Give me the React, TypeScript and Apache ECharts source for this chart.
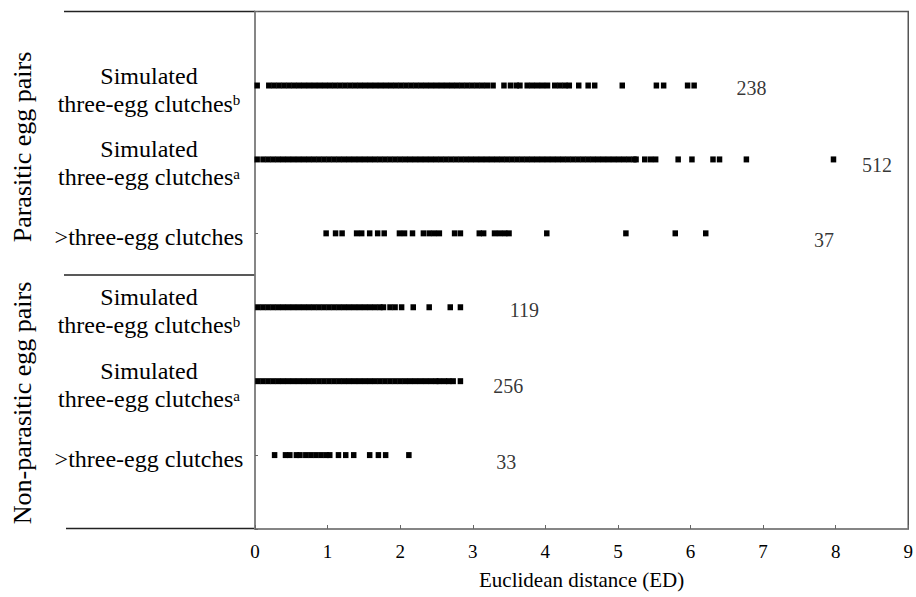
import React, { useEffect, useRef } from "react";
import * as echarts from "echarts";

// ---- data ----
const rowNames: string[] = [
  "Parasitic · Simulated three-egg clutches b",
  "Parasitic · Simulated three-egg clutches a",
  "Parasitic · >three-egg clutches",
  "Non-parasitic · Simulated three-egg clutches b",
  "Non-parasitic · Simulated three-egg clutches a",
  "Non-parasitic · >three-egg clutches",
];
const rowLevels: number[] = [6, 5, 4, 3, 2, 1];
const counts: number[] = [238, 512, 37, 119, 256, 33];

const parSimB: number[] = [
  0.03, 0.19, 0.26, 0.33, 0.40, 0.47, 0.54, 0.61, 0.68, 0.75, 0.82, 0.89, 0.96, 1.03,
  1.10, 1.17, 1.24, 1.31, 1.38, 1.45, 1.52, 1.59, 1.66, 1.73, 1.80, 1.87, 1.94, 2.01,
  2.08, 2.15, 2.22, 2.29, 2.36, 2.43, 2.50, 2.57, 2.64, 2.71, 2.78, 2.85, 2.92, 2.99,
  3.06, 3.13, 3.20, 3.28, 3.43, 3.52, 3.60, 3.65, 3.75, 3.82, 3.89, 3.96, 4.03, 4.13,
  4.20, 4.27, 4.33, 4.46, 4.59, 4.68, 5.06, 5.53, 5.63, 5.96, 6.05,
];
const parSimA: number[] = [
  0.03, 0.11, 0.18, 0.25, 0.32, 0.39, 0.46, 0.53, 0.60, 0.67, 0.74, 0.81, 0.88, 0.95,
  1.02, 1.09, 1.16, 1.23, 1.30, 1.37, 1.44, 1.51, 1.58, 1.65, 1.72, 1.79, 1.86, 1.93,
  2.00, 2.07, 2.14, 2.21, 2.28, 2.35, 2.42, 2.49, 2.56, 2.63, 2.70, 2.77, 2.84, 2.91,
  2.98, 3.05, 3.12, 3.19, 3.26, 3.33, 3.40, 3.47, 3.54, 3.61, 3.68, 3.75, 3.82, 3.89,
  3.96, 4.03, 4.10, 4.17, 4.24, 4.31, 4.38, 4.45, 4.52, 4.59, 4.66, 4.73, 4.80, 4.87,
  4.94, 5.01, 5.08, 5.15, 5.22, 5.25, 5.37, 5.45, 5.52, 5.83, 6.02, 6.31, 6.40, 6.77,
  7.97,
];
const parMore: number[] = [
  0.98, 1.11, 1.20, 1.40, 1.47, 1.58, 1.69, 1.78, 1.99, 2.06, 2.17, 2.32, 2.40, 2.47,
  2.54, 2.75, 2.83, 3.09, 3.15, 3.30, 3.37, 3.44, 3.50, 4.02, 5.11, 5.79, 6.21,
];
const nonSimB: number[] = [
  0.04, 0.11, 0.18, 0.25, 0.32, 0.39, 0.46, 0.53, 0.60, 0.67, 0.74, 0.81, 0.88, 0.95,
  1.02, 1.09, 1.16, 1.23, 1.30, 1.37, 1.44, 1.51, 1.58, 1.65, 1.72, 1.77, 1.86, 1.93,
  2.02, 2.18, 2.40, 2.69, 2.83,
];
const nonSimA: number[] = [
  0.04, 0.11, 0.18, 0.25, 0.32, 0.39, 0.46, 0.53, 0.60, 0.67, 0.74, 0.81, 0.88, 0.95,
  1.02, 1.09, 1.16, 1.23, 1.30, 1.37, 1.44, 1.51, 1.58, 1.65, 1.72, 1.79, 1.86, 1.93,
  2.00, 2.07, 2.14, 2.21, 2.28, 2.35, 2.42, 2.49, 2.54, 2.61, 2.67, 2.73, 2.83,
];
const nonMore: number[] = [
  0.27, 0.42, 0.48, 0.57, 0.62, 0.70, 0.77, 0.84, 0.91, 0.98, 1.03, 1.15, 1.25, 1.36,
  1.58, 1.70, 1.80, 2.12,
];
const rowValues: number[][] = [parSimB, parSimA, parMore, nonSimB, nonSimA, nonMore];

const xTicks: number[] = [0, 1, 2, 3, 4, 5, 6, 7, 8, 9];
const xTitle = "Euclidean distance (ED)";
const groupTitles: string[] = ["Parasitic egg pairs", "Non-parasitic egg pairs"];

// ---- layout (annotation placement) ----
const countLabelX: number[] = [6.84, 8.57, 7.84, 3.71, 3.49, 3.46];
const countLabelDy: number[] = [2, 6, 7, 3, 5, 6.5];

const FONT = "Liberation Serif";

const yLabelText: Record<number, string> = {
  6: "{t|Simulated}\n{t|three-egg clutches}{s|b}",
  5: "{t|Simulated}\n{t|three-egg clutches}{s|a}",
  4: "{t|>three-egg clutches}",
  3: "{t|Simulated}\n{t|three-egg clutches}{s|b}",
  2: "{t|Simulated}\n{t|three-egg clutches}{s|a}",
  1: "{t|>three-egg clutches}",
};

export default function App() {
  const ref = useRef<HTMLDivElement>(null);
  useEffect(() => {
    if (!ref.current) return;
    const chart = echarts.init(ref.current, null, { renderer: "svg" });

    const pointSeries = rowValues.map((vals, i) => ({
      type: "scatter",
      name: rowNames[i],
      symbol: "rect",
      symbolSize: [5.5, 6],
      itemStyle: { color: "#000", opacity: 1 },
      data: vals.map((v) => [v, rowLevels[i]]),
      z: 3,
    }));

    const countSeries = {
      type: "scatter",
      name: "counts",
      symbolSize: 1,
      itemStyle: { color: "rgba(0,0,0,0)" },
      data: counts.map((c, i) => ({
        value: [countLabelX[i], rowLevels[i], c],
        label: { offset: [0, countLabelDy[i]] },
      })),
      label: {
        show: true,
        position: "inside",
        formatter: (p: any) => String(p.value[2]),
        fontFamily: FONT,
        fontSize: 20,
        color: "#000",
      },
      z: 4,
    };

    chart.setOption({
      animation: false,
      backgroundColor: "#fff",
      textStyle: { fontFamily: FONT, color: "#000" },
      grid: {
        left: 255,
        right: 5,
        top: 11.6,
        bottom: 68,
        show: true,
        borderColor: "#555",
        borderWidth: 1.5,
        containLabel: false,
      },
      xAxis: {
        type: "value",
        min: xTicks[0],
        max: xTicks[xTicks.length - 1],
        interval: 1,
        splitLine: { show: false },
        axisLine: { show: true, lineStyle: { color: "#888", width: 1.5 } },
        axisTick: { show: true, inside: true, length: 4, lineStyle: { color: "#666" } },
        axisLabel: { fontFamily: FONT, fontSize: 19, color: "#000", margin: 13 },
        name: xTitle,
        nameLocation: "middle",
        nameGap: 40,
        nameTextStyle: { fontFamily: FONT, fontSize: 21, color: "#000" },
      },
      yAxis: {
        type: "value",
        min: 0,
        max: 7,
        interval: 1,
        splitLine: { show: false },
        axisLine: { show: true, lineStyle: { color: "#888", width: 1.5 } },
        axisTick: { show: true, inside: true, length: 3, lineStyle: { color: "#666" } },
        axisLabel: {
          margin: 106,
          align: "center",
          fontFamily: FONT,
          fontSize: 24,
          color: "#000",
          padding: [8, 0, 0, 0],
          formatter: (v: number) => yLabelText[v] || "",
          rich: {
            t: { fontFamily: FONT, fontSize: 24, lineHeight: 28, color: "#000" },
            s: { fontFamily: FONT, fontSize: 15, lineHeight: 28, color: "#000", padding: [0, 0, 7, 0] },
          },
        },
      },
      graphic: [
        {
          type: "text",
          x: 22,
          y: 147,
          rotation: Math.PI / 2,
          style: {
            text: groupTitles[0],
            font: `26px ${FONT}`,
            fill: "#000",
            align: "center",
            verticalAlign: "middle",
          },
        },
        {
          type: "text",
          x: 22,
          y: 403,
          rotation: Math.PI / 2,
          style: {
            text: groupTitles[1],
            font: `26px ${FONT}`,
            fill: "#000",
            align: "center",
            verticalAlign: "middle",
          },
        },
        { type: "line", shape: { x1: 64, y1: 11.5, x2: 255, y2: 11.5 }, style: { stroke: "#222", lineWidth: 1.5 } },
        { type: "line", shape: { x1: 64, y1: 275, x2: 255, y2: 275 }, style: { stroke: "#222", lineWidth: 1.5 } },
        { type: "line", shape: { x1: 66, y1: 528.5, x2: 255, y2: 528.5 }, style: { stroke: "#222", lineWidth: 1.5 } },
      ],
      series: [...pointSeries, countSeries],
    });
    return () => chart.dispose();
  }, []);
  return (
    <div
      ref={ref}
      style={{ position: "absolute", left: 0, top: 0, width: 916, height: 597 }}
    />
  );
}
